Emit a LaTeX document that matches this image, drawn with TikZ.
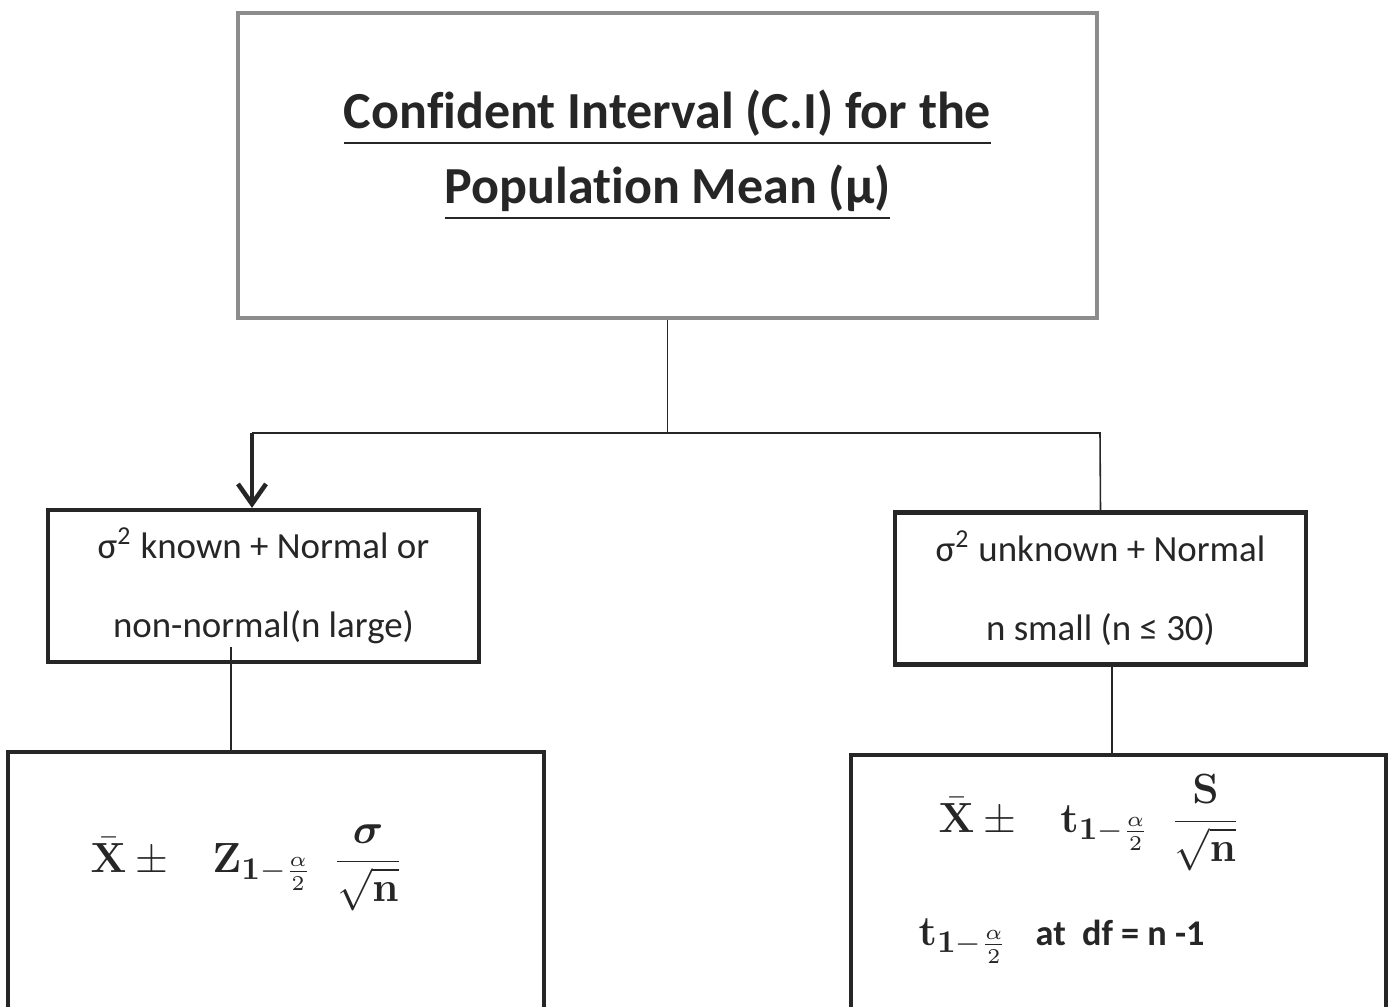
\documentclass[tikz,border=0pt]{standalone}
\usepackage[no-math]{fontspec}
\setmainfont{Carlito}[Ligatures=NoCommon]
\usepackage{amsmath}
\usepackage{bm}
\usetikzlibrary{arrows.meta}
\definecolor{ink}{HTML}{262626}
\definecolor{frame}{HTML}{8C8C8C}

\begin{document}
\begin{tikzpicture}[x=1cm,y=1cm,
    topbox/.style={draw=frame,line width=0.9pt,minimum width=8.59cm,minimum height=3.05cm},
    condbox/.style={draw=ink,line width=1.2pt,minimum height=1.52cm,align=center,
      text=ink,font=\fontsize{10.5}{22.4}\selectfont},
    formbox/.style={draw=ink,line width=1.2pt,minimum height=2.64cm},
    formula/.style={anchor=base west,inner sep=0pt,text=ink,font=\fontsize{13}{16}\selectfont},
    link/.style={draw=ink,line width=0.45pt},
    arr/.style={draw=ink,line width=1.3pt,-{Straight Barb[length=2mm,width=2.8mm]}}]
  \useasboundingbox (0,0) rectangle (13.94,10.06);
  \clip (0,0) rectangle (13.94,10.06);

  % boxes
  \node[topbox] (top) at (6.675,8.405) {};
  \node[align=center,text=ink,font=\fontsize{14.8}{21.3}\selectfont\bfseries] (title)
    at ([yshift=0.10cm]top.center)
    {\underline{Confident Interval (C.I) for the}\\\underline{Population Mean (μ)}};
  \node[condbox,minimum width=4.31cm] (lcond) at (2.635,4.20)
    {σ\textsuperscript{2} known + Normal or\\non-normal(n large)};
  \node[condbox,minimum width=4.11cm] (rcond) at (11.005,4.175)
    {σ\textsuperscript{2} unknown + Normal\\n small (n ≤ 30)};
  \node[formbox,minimum width=5.36cm] (lform) at (2.76,1.22) {};
  \node[formbox,minimum width=5.35cm,minimum height=2.61cm] (rform) at (11.185,1.205) {};

  % formulas
  \node[formula] (zci) at (0.90,1.34)
    {$\bar{\mathbf{X}}\pm\hspace{0.75em}\mathbf{Z}_{\mathbf{1}-\frac{\alpha}{2}}\hspace{0.45em}\dfrac{\bm{\sigma}}{\sqrt{\mathbf{n}}}$};
  \node[formula] (tci) at (9.38,1.74)
    {$\bar{\mathbf{X}}\pm\hspace{0.75em}\mathbf{t}_{\mathbf{1}-\frac{\alpha}{2}}\hspace{0.45em}\dfrac{\mathbf{S}}{\sqrt{\mathbf{n}}}$};
  \node[formula] (tdf) at (9.18,0.61)
    {$\mathbf{t}_{\mathbf{1}-\frac{\alpha}{2}}$\hspace{0.6em}{\fontsize{10.3}{13}\selectfont\bfseries at\ \ df = n -1}};

  % connectors
  \coordinate (jl) at (2.52,5.73);
  \coordinate (jr) at (11.00,5.73);
  \draw[link] (top.south) -- (top.south |- jl);
  \draw[link] (jl) -- (jr) -- (rcond.north);
  \draw[arr] (jl) -- (jl |- lcond.north);
  \draw[link] ([shift={(-0.325,0.17)}]lcond.south) -- ([xshift=-0.325cm]lcond.south |- lform.north);
  \draw[link] ([xshift=0.115cm]rcond.south) -- ([xshift=0.115cm]rcond.south |- rform.north);
\end{tikzpicture}
\end{document}
